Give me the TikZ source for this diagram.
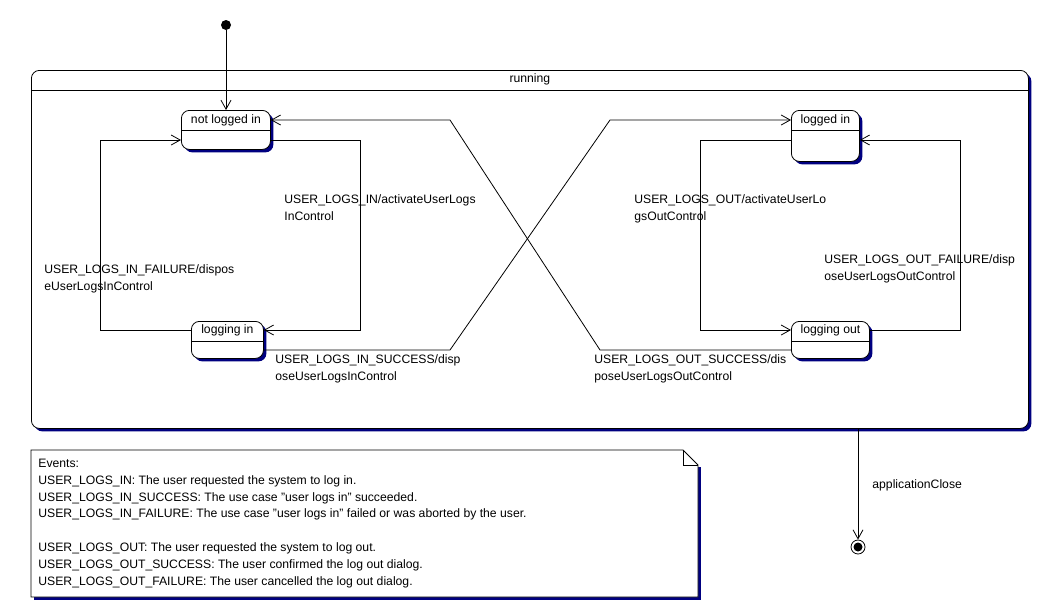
\documentclass[tikz,border=0pt]{standalone}
\usepackage{fontspec}
\setmainfont{Liberation Sans}
\usetikzlibrary{arrows.meta,shadows}
\definecolor{umlnavy}{RGB}{0,0,128}

\begin{document}
\begin{tikzpicture}[x=1pt, y=-1pt, line width=0.8pt,
        font=\fontsize{12.2}{17}\selectfont,
        state/.style={draw, fill=white, rounded corners=8pt, inner sep=0pt,
            text height=12pt, anchor=north west,
            drop shadow={fill=umlnavy, opacity=1, shadow xshift=3pt, shadow yshift=-3pt}},
        trans/.style={-{Straight Barb[length=9pt, width=10pt]}},
        lab/.style={anchor=base west, align=left, inner sep=0pt}]
            \useasboundingbox (0,0) rectangle (1041,611);

            % composite state
            \node[state, minimum width=997pt, text depth=346pt] (running) at (31,70) {running};

            \node[state, minimum width=89pt, text height=13pt, text depth=26pt] (notLoggedIn) at (181,110) {not logged in};
            \node[state, minimum width=72pt, text depth=25pt] (loggingIn) at (191,321) {logging in};
            \node[state, minimum width=68pt, text height=13pt, text depth=38pt] (loggedIn) at (791,110) {logged in};
            \node[state, minimum width=78pt, text depth=25pt] (loggingOut) at (791,321) {logging out};

            \foreach \s in {running, notLoggedIn, loggingIn, loggedIn, loggingOut}{
                \draw ([yshift=-20pt]\s.north west) to ([yshift=-20pt]\s.north east);
            }

            \node[circle, fill=black, inner sep=0pt, minimum size=10pt] (init) at (226,25) {};
            \node[circle, draw, inner sep=0pt, minimum size=14pt] (final) at (858,547) {};
            \fill (final) circle (4.5pt);

            % transitions
            \draw[trans] (init) to (init |- notLoggedIn.north);
            \draw[trans] (notLoggedIn.east |- 0,140) -| (360,330) -- (loggingIn.east |- 0,330);
            \draw[trans] (loggingIn.west |- 0,330) -| (100,140) -- (notLoggedIn.west |- 0,140);
            \draw[trans] (loggingIn.east |- 0,350) -- (450,350) -- (610,120) -- (loggedIn.west |- 0,120);
            \draw[trans] (loggedIn.west |- 0,140) -| (700,330) -- (loggingOut.west |- 0,330);
            \draw[trans] (loggingOut.east |- 0,330) -| (960,140) -- (loggedIn.east |- 0,140);
            \draw[trans] (loggingOut.west |- 0,350) -- (600,350) -- (450,120) -- (notLoggedIn.east |- 0,120);
            \draw[trans] (running.south -| final) to (final);

            % labels (base = last line)
            \node[lab] (inLab) at (284,220) {USER\_LOGS\_IN/activateUserLogs\\InControl};
            \node[lab] (inFailLab) at (44,290) {USER\_LOGS\_IN\_FAILURE/dispos\\eUserLogsInControl};
            \node[lab] (inOkLab) at (275,380) {USER\_LOGS\_IN\_SUCCESS/disp\\oseUserLogsInControl};
            \node[lab] (outLab) at (634,220) {USER\_LOGS\_OUT/activateUserLo\\gsOutControl};
            \node[lab] (outFailLab) at (824,280) {USER\_LOGS\_OUT\_FAILURE/disp\\oseUserLogsOutControl};
            \node[lab] (outOkLab) at (594,380) {USER\_LOGS\_OUT\_SUCCESS/dis\\poseUserLogsOutControl};
            \node[lab] (closeLab) at (872,488) {applicationClose};

            % note
            \fill[umlnavy] (34,597) rectangle (701,600);
            \fill[umlnavy] (698,467) rectangle (701,600);
            \draw[fill=white] (31,450) -- (683,450) -- (698,465) -- (698,597) -- (31,597) -- cycle;
            \draw (683,450) -- (683,465) -- (698,465);
            \node[lab, font=\fontsize{12.2}{16.8}\selectfont] (events) at (38,585) {Events:\\
                USER\_LOGS\_IN: The user requested the system to log in.\\
                USER\_LOGS\_IN\_SUCCESS: The use case "user logs in" succeeded.\\
                USER\_LOGS\_IN\_FAILURE: The use case "user logs in" failed or was aborted by the user.\\[16.8pt]
                USER\_LOGS\_OUT: The user requested the system to log out.\\
                USER\_LOGS\_OUT\_SUCCESS: The user confirmed the log out dialog.\\
                USER\_LOGS\_OUT\_FAILURE: The user cancelled the log out dialog.};
\end{tikzpicture}
\end{document}
